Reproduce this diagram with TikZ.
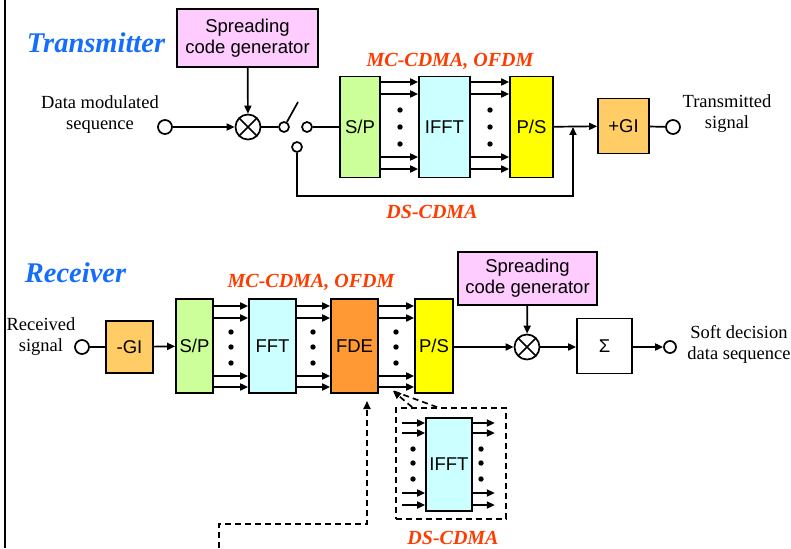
\documentclass[tikz,border=0pt]{standalone}
\usepackage{fontspec}
\setmainfont{Liberation Serif}
\newfontfamily\boxfont{Liberation Sans}
\usetikzlibrary{arrows.meta}
\definecolor{pinkbox}{RGB}{255,204,255}
\definecolor{spgreen}{RGB}{204,255,153}
\definecolor{fftcyan}{RGB}{204,255,255}
\definecolor{psyellow}{RGB}{255,255,0}
\definecolor{giorange}{RGB}{255,204,102}
\definecolor{fdeorange}{RGB}{255,153,51}
\definecolor{titleblue}{RGB}{20,110,250}
\definecolor{modered}{RGB}{255,60,0}
\begin{document}
\begin{tikzpicture}[x=1pt,y=-1pt,line width=1.7pt,>={Triangle[length=8pt,width=7pt]},
	blk/.style={draw,inner sep=0pt,align=center,font=\boxfont\fontsize{18.5}{21}\selectfont},
	port/.style={circle,draw,inner sep=0pt,minimum size=14pt},
	mult/.style={circle,draw,inner sep=0pt,minimum size=25pt,path picture={
		\draw (path picture bounding box.north west) -- (path picture bounding box.south east)
			(path picture bounding box.south west) -- (path picture bounding box.north east);}},
	title/.style={font=\fontsize{28.5}{30}\selectfont\bfseries\itshape,text=titleblue},
	mode/.style={font=\fontsize{20}{22}\selectfont\bfseries\itshape,text=modered},
	lbl/.style={align=center,font=\fontsize{18.5}{21}\selectfont},
	dsh/.style={dashed,dash pattern=on 6pt off 4pt},
	]
	\useasboundingbox (0,0) rectangle (791,548);
	\draw[line width=2.7pt] (5,0) -- (5,548);

	% transmitter
	\node[title] (TX) at (96,43) {Transmitter};
	\node[blk,fill=pinkbox,minimum width=141pt,minimum height=58pt] (SCGt) at (247.5,38) {Spreading\\code generator};
	\node[lbl] (DMS) at (100,115) {Data modulated\\sequence};
	\node[port] (INt) at (165,127) {};
	\node[mult] (MULt) at (248,127) {};
	\node[port,minimum size=10pt] (SW1) at (284,127) {};
	\node[port,minimum size=10pt] (SW2) at (307,127) {};
	\node[port,minimum size=10pt] (SW3) at (297,147) {};
	\coordinate (SWlev) at (298,102);
	\node[blk,fill=spgreen,minimum width=40pt,minimum height=101pt] (SPt) at (360,127) {S/P};
	\node[blk,fill=fftcyan,minimum width=51pt,minimum height=101pt] (IFFTt) at (444.5,127) {IFFT};
	\node[blk,fill=psyellow,minimum width=43pt,minimum height=101pt] (PSt) at (531.5,127) {P/S};
	\node[blk,fill=giorange,minimum width=51pt,minimum height=55pt] (GIt) at (623.5,126) {+GI};
	\node[port] (OUTt) at (673,127) {};
	\node[lbl] (TXS) at (727,114) {Transmitted\\signal};
	\node[mode] (MCt) at (450,61) {MC-CDMA, OFDM};
	\node[mode] (DSt) at (432,212) {DS-CDMA};
	\coordinate (J) at (573,127);

	\draw[->] (INt) -- (MULt);
	\draw[->] (SCGt) -- (MULt);
	\draw (MULt) -- (SW1);
	\draw (SW1.60) -- (SWlev);
	\draw (SW2) -- (SPt);
	\foreach \y in {82,94,157,169} {
		\draw[->] (SPt.east |- 0,\y) -- (IFFTt.west |- 0,\y);
		\draw[->] (IFFTt.east |- 0,\y) -- (PSt.west |- 0,\y);
	}
	\foreach \x in {400,490} \foreach \y in {110,127,144} \fill (\x,\y) circle (2.7pt);
	\draw[->] (PSt) -- (GIt);
	\draw (GIt) -- (OUTt);
	\draw[->] (SW3) -- (SW3 |- 0,196) -| (J);

	% receiver
	\node[title] (RX) at (75.5,273) {Receiver};
	\node[lbl] (RXS) at (41,337) {Received\\signal};
	\node[port] (INr) at (82,347) {};
	\node[blk,fill=giorange,minimum width=47pt,minimum height=52pt] (GIr) at (129.5,347) {-GI};
	\node[blk,fill=spgreen,minimum width=37pt,minimum height=94pt] (SPr) at (194.5,346) {S/P};
	\node[blk,fill=fftcyan,minimum width=47pt,minimum height=94pt] (FFTr) at (272.5,346) {FFT};
	\node[blk,fill=fdeorange,minimum width=47pt,minimum height=94pt] (FDEr) at (354.5,346) {FDE};
	\node[blk,fill=psyellow,minimum width=38pt,minimum height=94pt] (PSr) at (434,346) {P/S};
	\node[blk,fill=pinkbox,minimum width=139pt,minimum height=53pt] (SCGr) at (527.5,278.5) {Spreading\\code generator};
	\node[mult] (MULr) at (527,347) {};
	\node[blk,minimum width=55pt,minimum height=55pt] (SUMr) at (604.5,346) {Σ};
	\node[port,minimum size=12pt] (OUTr) at (670,347) {};
	\node[lbl] (SDD) at (739,344) {Soft decision\\data sequence};
	\node[mode] (MCr) at (311,282) {MC-CDMA, OFDM};

	\draw (INr) -- (GIr);
	\draw[->] (GIr) -- (SPr);
	\foreach \y in {306,318,376,387} {
		\draw[->] (SPr.east |- 0,\y) -- (FFTr.west |- 0,\y);
		\draw[->] (FFTr.east |- 0,\y) -- (FDEr.west |- 0,\y);
		\draw[->] (FDEr.east |- 0,\y) -- (PSr.west |- 0,\y);
	}
	\foreach \x in {231,313,396} \foreach \y in {332,347,363} \fill (\x,\y) circle (2.7pt);
	\draw[->] (PSr.east |- MULr) -- (MULr);
	\draw[->] (SCGr) -- (MULr);
	\draw[->] (MULr) -- (SUMr.west |- MULr);
	\draw[->] (SUMr.east |- OUTr) -- (OUTr);

	% DS-CDMA inset
	\node[draw,dsh,minimum width=110pt,minimum height=111pt] (DSbox) at (451,463.5) {};
	\node[blk,fill=fftcyan,minimum width=46pt,minimum height=93pt] (IFFTd) at (449,464.5) {IFFT};
	\foreach \y in {423,433,493,505} {
		\draw[->] ([xshift=7pt]DSbox.west |- 0,\y) -- (IFFTd.west |- 0,\y);
		\draw[->] (IFFTd.east |- 0,\y) -- ([xshift=-12pt]DSbox.east |- 0,\y);
	}
	\foreach \x in {413,481} \foreach \y in {449,463,479} \fill (\x,\y) circle (2.7pt);
	\node[mode] (DSr) at (453,538) {DS-CDMA};
	\coordinate (Zt) at (393,391);
	\draw[dsh,->] ([xshift=17pt]DSbox.north west) -- (Zt);
	\draw[dsh] ([xshift=42pt]DSbox.north west) -- (Zt);
	\coordinate (Bt) at (219,548);
	\coordinate (FDEin) at (367,401);
	\draw[dsh,->] (Bt) |- (FDEin |- 0,524) -- (FDEin);
\end{tikzpicture}
\end{document}
